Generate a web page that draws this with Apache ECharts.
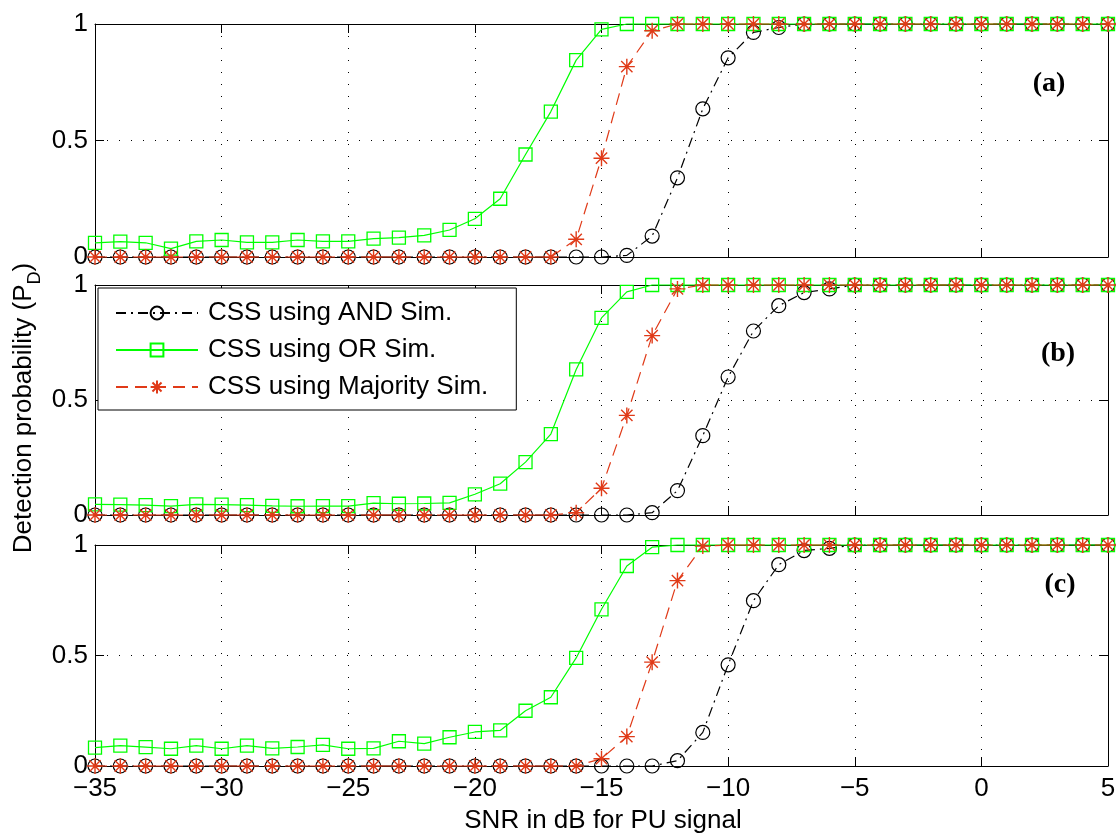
<!DOCTYPE html>
<html>
<head>
<meta charset="utf-8">
<script src="https://cdn.jsdelivr.net/npm/echarts@6/dist/echarts.min.js"></script>
<style>
  html, body { margin: 0; padding: 0; background: #fff; }
  #chart { width: 1118px; height: 835px; }
</style>
</head>
<body>
<div id="chart"></div>
<script>
// SNR grid (dB)
const snr = [-35, -34, -33, -32, -31, -30, -29, -28, -27, -26, -25, -24, -23, -22, -21, -20,
  -19, -18, -17, -16, -15, -14, -13, -12, -11, -10, -9, -8, -7, -6, -5, -4, -3, -2, -1, 0, 1, 2, 3, 4, 5];
const xTicks = [-35, -30, -25, -20, -15, -10, -5, 0, 5];
const yTicks = [0, 0.5, 1];

const seriesNames = ['CSS using AND Sim.', 'CSS using OR Sim.', 'CSS using Majority Sim.'];
const panelTags = ['(a)', '(b)', '(c)'];

// Panel (a)
const andA = [0, 0, 0, 0, 0, 0, 0, 0, 0, 0, 0, 0, 0, 0, 0, 0, 0, 0, 0, 0, 0,
  0.007, 0.09, 0.34, 0.636, 0.855, 0.964, 0.985,
  1, 1, 1, 1, 1, 1, 1, 1, 1, 1, 1, 1, 1];
const orA = [0.061, 0.066, 0.061, 0.036, 0.067, 0.073, 0.063, 0.063, 0.073, 0.067, 0.067,
  0.079, 0.083, 0.093, 0.116, 0.164, 0.25, 0.44, 0.624, 0.845, 0.977,
  1, 1, 1, 1, 1, 1, 1, 1, 1, 1, 1, 1, 1, 1, 1, 1, 1, 1, 1, 1];
const majA = [0, 0, 0, 0, 0, 0, 0, 0, 0, 0, 0, 0, 0, 0, 0, 0, 0, 0, 0,
  0.076, 0.424, 0.817, 0.971,
  1, 1, 1, 1, 1, 1, 1, 1, 1, 1, 1, 1, 1, 1, 1, 1, 1, 1];

// Panel (b)
const andB = [0, 0, 0, 0, 0, 0, 0, 0, 0, 0, 0, 0, 0, 0, 0, 0, 0, 0, 0, 0, 0, 0,
  0.01, 0.106, 0.345, 0.60, 0.80, 0.91, 0.967, 0.983,
  1, 1, 1, 1, 1, 1, 1, 1, 1, 1, 1];
const orB = [0.046, 0.045, 0.043, 0.039, 0.046, 0.045, 0.043, 0.04, 0.038, 0.039, 0.039,
  0.052, 0.049, 0.05, 0.053, 0.09, 0.136, 0.23, 0.352, 0.633, 0.857, 0.97,
  1, 1, 1, 1, 1, 1, 1, 1, 1, 1, 1, 1, 1, 1, 1, 1, 1, 1, 1];
const majB = [0, 0, 0, 0, 0, 0, 0, 0, 0, 0, 0, 0, 0, 0, 0, 0, 0, 0, 0,
  0.01, 0.116, 0.433, 0.78, 0.983,
  1, 1, 1, 1, 1, 1, 1, 1, 1, 1, 1, 1, 1, 1, 1, 1, 1];

// Panel (c)
const andC = [0, 0, 0, 0, 0, 0, 0, 0, 0, 0, 0, 0, 0, 0, 0, 0, 0, 0, 0, 0, 0, 0, 0,
  0.024, 0.152, 0.458, 0.748, 0.911, 0.975, 0.985,
  1, 1, 1, 1, 1, 1, 1, 1, 1, 1, 1];
const orC = [0.083, 0.092, 0.085, 0.078, 0.092, 0.078, 0.092, 0.08, 0.086, 0.096, 0.078,
  0.08, 0.112, 0.101, 0.13, 0.154, 0.161, 0.25, 0.311, 0.489, 0.709, 0.905, 0.99,
  1, 1, 1, 1, 1, 1, 1, 1, 1, 1, 1, 1, 1, 1, 1, 1, 1, 1];
const majC = [0, 0, 0, 0, 0, 0, 0, 0, 0, 0, 0, 0, 0, 0, 0, 0, 0, 0, 0, 0,
  0.033, 0.133, 0.47, 0.839, 0.995,
  1, 1, 1, 1, 1, 1, 1, 1, 1, 1, 1, 1, 1, 1, 1, 1];

const panelData = [[andA, orA, majA], [andB, orB, majB], [andC, orC, majC]];

// ---- styling ----
const FONT = 'Liberation Sans, Arial, Helvetica, sans-serif';
const SERIF = 'Liberation Serif, Times New Roman, serif';
const RED = '#E03A18';
const GREEN = '#00FF00';
const STAR = 'path://M0,-10L0,10M-10,0L10,0M-7.07,-7.07L7.07,7.07M-7.07,7.07L7.07,-7.07';

const panels = [
  { top: 24, height: 233, tagX: 1049, tagY: 84 },
  { top: 285, height: 230, tagX: 1058, tagY: 354 },
  { top: 545, height: 221, tagX: 1060, tagY: 585 }
];

const seriesStyles = [
  { symbol: 'circle', size: 14, color: '#000', lineType: [10, 5, 2, 5], border: 1.2 },
  { symbol: 'rect', size: 13, color: GREEN, lineType: 'solid', border: 1.3 },
  { symbol: STAR, size: 16, color: RED, lineType: [12, 7], border: 1.4 }
];

const grid = [], xAxis = [], yAxis = [], series = [], graphic = [];
const dotted = { show: true, lineStyle: { color: '#000', width: 1, type: [1, 11] } };
const fmtX = v => (v < 0 ? '\u2212' + Math.abs(v) : String(v));

panels.forEach((p, i) => {
  grid.push({ left: 95, right: 10, top: p.top, height: p.height, outerBoundsMode: 'none' });
  const isLast = i === panels.length - 1;
  const xBase = {
    gridIndex: i, type: 'value', min: xTicks[0], max: xTicks[xTicks.length - 1], interval: 5,
    axisLine: { show: true, onZero: false, lineStyle: { color: '#000', width: 1 } },
    axisTick: { show: true, inside: true, length: 9, lineStyle: { color: '#000' } }
  };
  xAxis.push(Object.assign({}, xBase, {
    position: 'bottom',
    axisLabel: { show: isLast, formatter: fmtX, fontSize: 26, fontFamily: FONT, color: '#000', margin: 10 },
    splitLine: dotted
  }));
  xAxis.push(Object.assign({}, xBase, {
    position: 'top', axisLabel: { show: false }, splitLine: { show: false }
  }));
  const yBase = {
    gridIndex: i, type: 'value', min: yTicks[0], max: yTicks[yTicks.length - 1], interval: 0.5,
    axisLine: { show: true, onZero: false, lineStyle: { color: '#000', width: 1 } },
    axisTick: { show: true, inside: true, length: 9, lineStyle: { color: '#000' } }
  };
  yAxis.push(Object.assign({}, yBase, {
    position: 'left',
    axisLabel: { show: true, fontSize: 26, fontFamily: FONT, color: '#000', margin: 7 },
    splitLine: dotted
  }));
  yAxis.push(Object.assign({}, yBase, {
    position: 'right', axisLabel: { show: false }, splitLine: { show: false }
  }));

  panelData[i].forEach((vals, k) => {
    const st = seriesStyles[k];
    series.push({
      name: seriesNames[k], type: 'line',
      xAxisIndex: 2 * i, yAxisIndex: 2 * i,
      data: snr.map((x, j) => [x, vals[j]]),
      symbol: st.symbol, symbolSize: st.size, symbolKeepAspect: true,
      showSymbol: true, showAllSymbol: true,
      lineStyle: { color: st.color, width: 1.2, type: st.lineType },
      itemStyle: { color: 'rgba(0,0,0,0)', borderColor: st.color, borderWidth: st.border },
      emphasis: { disabled: true }, silent: true, clip: false
    });
  });

  graphic.push({
    type: 'text', x: p.tagX, y: p.tagY, z: 20,
    style: { text: panelTags[i], font: 'bold 28px ' + SERIF, fill: '#000', align: 'center', verticalAlign: 'middle' }
  });
});

graphic.push({
  type: 'text', x: 603, y: 821, z: 20,
  style: { text: 'SNR in dB for PU signal', font: '26px ' + FONT, fill: '#000', align: 'center', verticalAlign: 'middle' }
});
graphic.push({
  type: 'text', x: 24, y: 408, rotation: Math.PI / 2, z: 20,
  style: {
    text: '{m|Detection probability (P}{s|D}{m|)}',
    align: 'center', verticalAlign: 'middle', fill: '#000',
    rich: {
      m: { fontSize: 26, fontFamily: FONT, lineHeight: 40, fill: '#000' },
      s: { fontSize: 18, fontFamily: FONT, lineHeight: 18, verticalAlign: 'bottom', fill: '#000' }
    }
  }
});

const chart = echarts.init(document.getElementById('chart'), null, { renderer: 'canvas' });
chart.setOption({
  animation: false,
  backgroundColor: '#fff',
  grid, xAxis, yAxis, series, graphic,
  legend: {
    data: seriesNames, orient: 'vertical', left: 98, top: 288,
    itemWidth: 82, itemHeight: 16, itemGap: 11,
    padding: [12, 28, 10, 17],
    backgroundColor: '#fff', borderColor: '#000', borderWidth: 1,
    selectedMode: false, z: 15,
    textStyle: { fontSize: 26, fontFamily: FONT, color: '#000', padding: [0, 0, 0, 5] }
  }
});
</script>
</body>
</html>
